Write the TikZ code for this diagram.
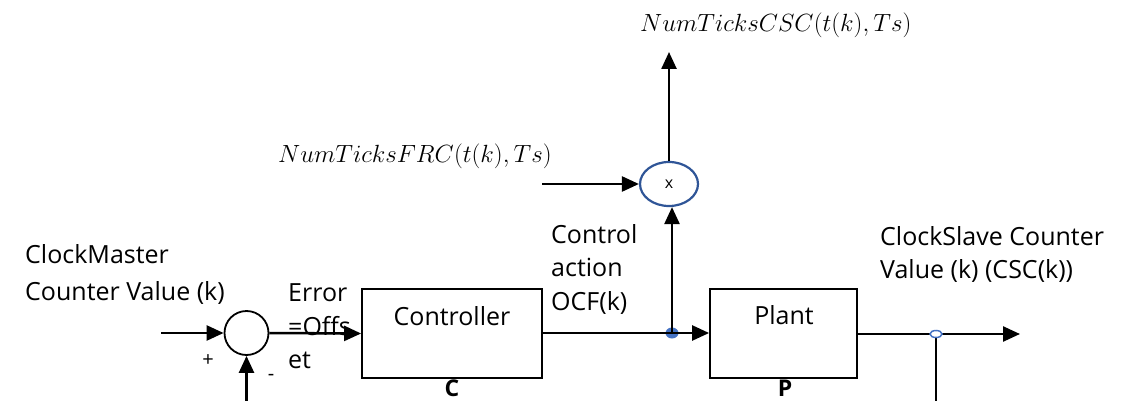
\documentclass[tikz,border=0pt]{standalone}
\usepackage{fontspec}
\setmainfont{Open Sans}
\usetikzlibrary{arrows.meta,shapes.geometric}
\definecolor{ringblue}{RGB}{47,85,151}
\definecolor{dotblue}{RGB}{68,114,196}
\begin{document}
\begin{tikzpicture}[x=1pt,y=-1pt,
  every node/.style={font=\fontsize{25}{30}\selectfont, inner sep=0pt},
  wire/.style={line width=2.5pt},
  arr/.style={line width=2.5pt,-{Triangle[length=17pt,width=15pt]}},
  blockbox/.style={draw,line width=1.8pt,rectangle},
  txt/.style={anchor=base west},
  mathlbl/.style={anchor=base west,font=\fontsize{25}{30}\selectfont},
  small/.style={font=\fontsize{20}{22}\selectfont},
  blocklbl/.style={anchor=base,font=\fontsize{23}{28}\selectfont\bfseries}]
\useasboundingbox (0,0) rectangle (1131,401);
% sum junction
\node[circle,draw,line width=1.8pt,minimum size=44pt] (sum) at (246.5,333) {};
% multiplier
\node[ellipse,draw=ringblue,line width=2.2pt,minimum width=58pt,minimum height=44pt,font=\fontsize{16}{18}\selectfont] (mul) at (669,184) {x};
% blocks
\node[blockbox,minimum width=180pt,minimum height=89pt] (ctrl) at (452,333.5) {};
\node[blockbox,minimum width=147pt,minimum height=89pt] (plant) at (783.5,333.5) {};
\node[anchor=base] (ctrltxt) at (452,325) {Controller};
\node[anchor=base] (planttxt) at (784,324) {Plant};
\node[blocklbl] (clab) at (452,396) {C};
\node[blocklbl] (plab) at (785,396) {P};
% coordinates
\coordinate (in) at (161,333);
\coordinate (sumbot) at (246.5,401);
\fill[dotblue] (672,333) ellipse (6.5pt and 5.5pt);
\coordinate (dot) at (672,333);
\coordinate (mulin) at (542,184);
\coordinate (mulout) at (669,52);
\coordinate (tap) at (936,334);
\coordinate (tapbot) at (936,401);
\coordinate (outend) at (1020,334);
% connectors
\draw[arr] (in) -- (sum.west);
\draw[arr] (sumbot) -- (sum.south);
\draw[arr] (sum.east) -- (ctrl.west);
\draw[wire] (ctrl.east |- dot) -- (dot);
\draw[arr] (dot) -- (plant.west |- dot);
\draw[arr] (dot) -- (dot |- mul.south);
\draw[arr] (mulin) -- (mul.west);
\draw[arr] (mul.north) -- (mulout);
\draw[arr] (plant.east |- tap) -- (outend);
\draw[wire] (tap) -- (tapbot);
\draw[dotblue,line width=1.5pt,fill=white] (tap) ellipse (6pt and 3.5pt);
% signs
\node[small] (plus) at (208,361) {+};
\node[small] (minus) at (271,377) {-};
% texts
\node[txt] (cm1) at (25,263) {ClockMaster};
\node[txt] (cm2) at (25,300) {Counter Value (k)};
\node[txt] (er1) at (288,301) {Error};
\node[txt] (er2) at (288,335) {=Offs};
\node[txt] (er3) at (288,368) {et};
\node[txt] (ca1) at (551,243) {Control};
\node[txt] (ca2) at (551,276) {action};
\node[txt] (ca3) at (551,310) {OCF(k)};
\node[txt] (cs1) at (880,245) {ClockSlave Counter};
\node[txt] (cs2) at (880,278) {Value (k) (CSC(k))};
\node[mathlbl] (frc) at (278,162) {$NumTicksFRC(t(k),Ts)$};
\node[mathlbl] (csc) at (640,32) {$NumTicksCSC(t(k),Ts)$};
\end{tikzpicture}
\end{document}
